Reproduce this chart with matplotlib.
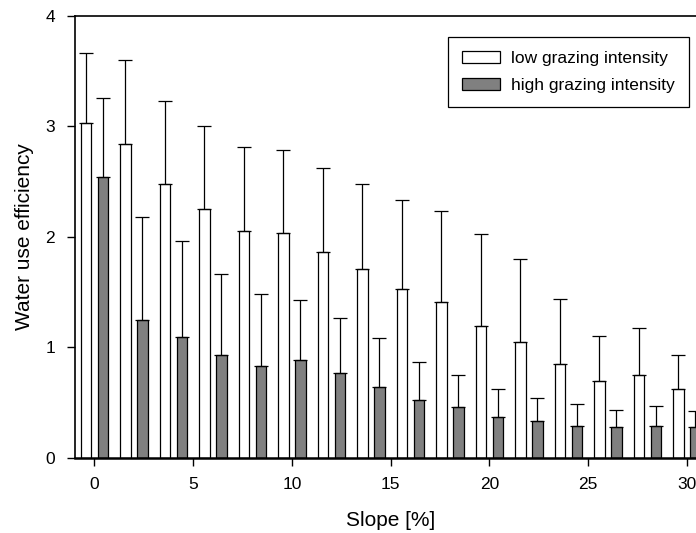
import matplotlib
matplotlib.use("Agg")
import matplotlib.pyplot as plt
import numpy as np

plt.rcParams['font.family'] = ['Liberation Sans', 'DejaVu Sans']

# slope classes [%]
slope = [0, 2, 4, 6, 8, 10, 12, 14, 16, 18, 20, 22, 24, 26, 28, 30]

# water use efficiency, means and upper error (mean + sd)
low_mean = [3.03, 2.84, 2.48, 2.25, 2.05, 2.03, 1.86, 1.71,
            1.53, 1.41, 1.19, 1.05, 0.85, 0.69, 0.75, 0.62]
low_top = [3.66, 3.60, 3.23, 3.00, 2.81, 2.78, 2.62, 2.48,
           2.33, 2.23, 2.02, 1.80, 1.44, 1.10, 1.17, 0.93]
high_mean = [2.54, 1.25, 1.09, 0.93, 0.83, 0.88, 0.77, 0.64,
             0.52, 0.46, 0.37, 0.33, 0.29, 0.28, 0.29, 0.275]
high_top = [3.25, 2.18, 1.96, 1.66, 1.48, 1.43, 1.26, 1.08,
            0.87, 0.75, 0.62, 0.54, 0.49, 0.43, 0.47, 0.42]

x = np.array(slope, dtype=float)
low_err = np.array(low_top) - np.array(low_mean)
high_err = np.array(high_top) - np.array(high_mean)

fig = plt.figure(figsize=(6.96, 5.33), dpi=100)
ax = fig.add_axes([0.1073, 0.1413, 0.908, 0.8296])

w = 0.52
off = 0.43
err_kw = dict(ecolor='black', elinewidth=0.9, capsize=5, capthick=0.9)

ax.bar(x - off, low_mean, width=w, color='white', edgecolor='black', linewidth=0.9,
       yerr=[np.zeros_like(low_err), low_err], error_kw=err_kw,
       label='low grazing intensity', zorder=2)
ax.bar(x + off, high_mean, width=w, color='#808080', edgecolor='black', linewidth=0.9,
       yerr=[np.zeros_like(high_err), high_err], error_kw=err_kw,
       label='high grazing intensity', zorder=2)

ax.set_xlim(-1, 31)
ax.set_ylim(0, 4)
ax.set_xticks([0, 5, 10, 15, 20, 25, 30])
ax.set_yticks([0, 1, 2, 3, 4])
ax.tick_params(direction='out', length=6, width=1, labelsize=12.5, pad=8)

for side in ['left', 'top']:
    ax.spines[side].set_linewidth(1.2)
ax.spines['bottom'].set_linewidth(1.8)

ax.set_xlabel('Slope [%]', fontsize=15)
ax.set_ylabel('Water use efficiency', fontsize=15)
ax.xaxis.set_label_coords(0.5, -0.12)
ax.yaxis.set_label_coords(-0.064, 0.5)

leg = ax.legend(loc='upper right', bbox_to_anchor=(689 / 696, 1 - 36.7 / 533),
                bbox_transform=fig.transFigure, fontsize=12.5, fancybox=False,
                framealpha=1, edgecolor='black', handlelength=2.2, handleheight=0.7,
                handletextpad=0.65, labelspacing=0.7, borderpad=0.8, borderaxespad=0)
leg.get_frame().set_linewidth(0.9)

fig.savefig('out.png', dpi=100)
